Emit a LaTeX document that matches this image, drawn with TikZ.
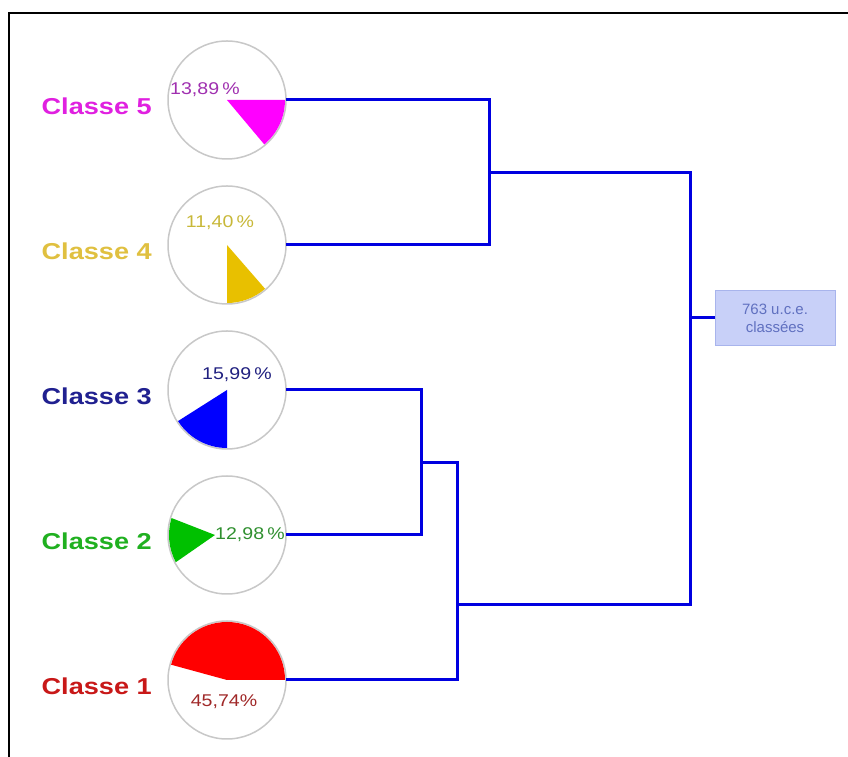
\documentclass[tikz,border=0pt]{standalone}
\usepackage{fontspec}
\setmainfont{Liberation Sans}
\usetikzlibrary{calc}
\definecolor{magLab}{HTML}{E020E0}
\definecolor{magTxt}{HTML}{A030B0}
\definecolor{magPie}{HTML}{FF00FF}
\definecolor{yelLab}{HTML}{E0C040}
\definecolor{yelTxt}{HTML}{C8B838}
\definecolor{yelPie}{HTML}{E8C000}
\definecolor{navLab}{HTML}{202090}
\definecolor{navTxt}{HTML}{202080}
\definecolor{navPie}{HTML}{0000FF}
\definecolor{grnLab}{HTML}{20B020}
\definecolor{grnTxt}{HTML}{309030}
\definecolor{grnPie}{HTML}{00C000}
\definecolor{redLab}{HTML}{C81818}
\definecolor{redTxt}{HTML}{A02828}
\definecolor{redPie}{HTML}{FF0000}
\definecolor{linkBlue}{HTML}{0000E0}
\definecolor{boxFill}{HTML}{C8D0F8}
\definecolor{boxLine}{HTML}{A8B4EC}
\definecolor{boxTxt}{HTML}{6070C0}
\definecolor{ringGray}{HTML}{C8C8C8}
\begin{document}
\begin{tikzpicture}[x=1pt,y=1pt,
  piecircle/.style={circle, draw=ringGray, line width=1.5pt, minimum size=118pt, inner sep=0pt, outer sep=0pt},
  classlab/.style={font=\fontsize{23}{25}\selectfont\bfseries, xscale=1.18, inner sep=0pt},
  pct/.style={font=\fontsize{17}{19}\selectfont, xscale=1.15, inner sep=0pt},
  link/.style={draw=linkBlue, line width=3pt},
  rootbox/.style={draw=boxLine, fill=boxFill, line width=1pt, minimum width=120pt, minimum height=55pt, align=center, text=boxTxt, font=\fontsize{15}{18}\selectfont, inner sep=2pt}
]
\useasboundingbox (0,0) rectangle (848,757);
\fill[white] (0,0) rectangle (848,757);
\draw[black, line width=2.5pt] (9,0) -- (9,744) -- (848,744);

% circles
\node[piecircle] (c5) at (227,657) {};
\node[piecircle] (c4) at (227,512) {};
\node[piecircle] (c3) at (227,367) {};
\node[piecircle] (c2) at (227,222) {};
\node[piecircle] (c1) at (227,77) {};

% pie wedges
\fill[magPie] (c5.center) -- ++(0:58) arc (0:-50:58) -- cycle;
\fill[yelPie] (c4.center) -- ++(-90:58) arc (-90:-49:58) -- cycle;
\fill[navPie] (c3.center) -- ++(-90:58) arc (-90:-147.6:58) -- cycle;
\fill[grnPie] ($(c2.center)+(-12,0)$) -- ($(c2.center)+(163:58)$) arc (163:208:58) -- cycle;
\fill[redPie] (c1.center) -- ++(0:58) arc (0:164.7:58) -- cycle;

% class labels
\node[classlab, text=magLab, anchor=east] (l5) at (152,651) {Classe 5};
\node[classlab, text=yelLab, anchor=east] (l4) at (152,506) {Classe 4};
\node[classlab, text=navLab, anchor=east] (l3) at (152,361) {Classe 3};
\node[classlab, text=grnLab, anchor=east] (l2) at (152,216) {Classe 2};
\node[classlab, text=redLab, anchor=east] (l1) at (152,71) {Classe 1};

% percentages
\node[pct, text=magTxt] (p5) at (205,667) {13,89\,\%};
\node[pct, text=yelTxt] (p4) at (220,534) {11,40\,\%};
\node[pct, text=navTxt] (p3) at (237,382) {15,99\,\%};
\node[pct, text=grnTxt] (p2) at (250,222) {12,98\,\%};
\node[pct, text=redTxt] (p1) at (224,55) {45,74\%};

% junctions
\coordinate (j54) at (489,584.5);
\coordinate (j32) at (421,294.5);
\coordinate (j321) at (457,152);
\coordinate (root) at (690,439);

\node[rootbox] (box) at (775,439) {763 u.c.e.\\classées};

\draw[link] (c5.east) -| (j54) |- (c4.east);
\draw[link] (c3.east) -| (j32) |- (c2.east);
\draw[link] (j32) -| (j321) |- (c1.east);
\draw[link] (j54) -| (root) |- (j321);
\draw[link] (root) -- (box.west);
\end{tikzpicture}
\end{document}
